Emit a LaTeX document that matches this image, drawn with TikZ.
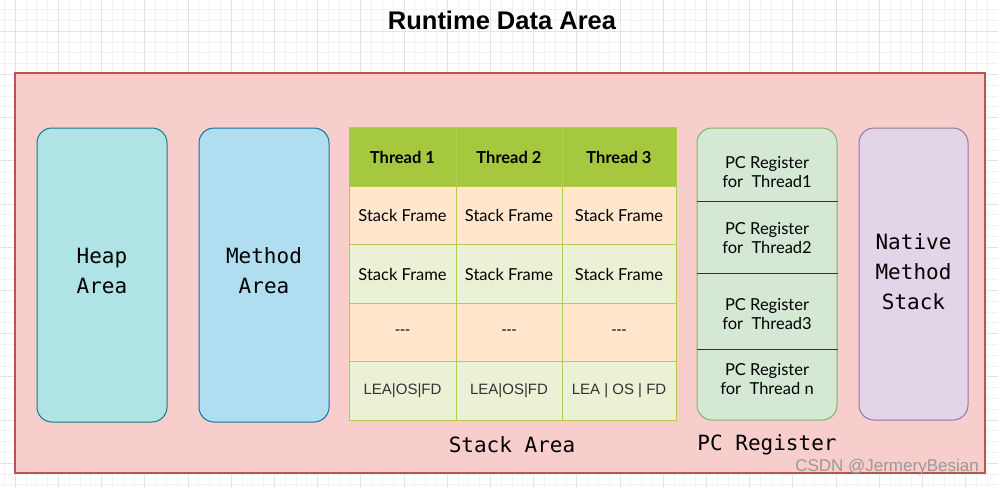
\documentclass[tikz,border=0pt]{standalone}
\usepackage{fontspec}
\setmainfont{Liberation Sans}
\setmonofont{DejaVu Sans Mono}
\newfontfamily\handfont{Lato}
\usepackage{tikz}

\definecolor{outerfill}{RGB}{248,206,204}
\definecolor{outerline}{RGB}{184,84,80}
\definecolor{heapfill}{RGB}{176,227,230}
\definecolor{heapline}{RGB}{14,128,136}
\definecolor{methfill}{RGB}{177,221,240}
\definecolor{methline}{RGB}{16,115,158}
\definecolor{hdrfill}{RGB}{166,200,62}
\definecolor{peach}{RGB}{255,230,204}
\definecolor{lightgreen}{RGB}{234,241,213}
\definecolor{tblline}{RGB}{176,205,80}
\definecolor{pcfill}{RGB}{213,232,212}
\definecolor{pcline}{RGB}{130,179,102}
\definecolor{natfill}{RGB}{225,213,231}
\definecolor{natline}{RGB}{150,115,166}

\tikzset{
  areabox/.style={draw, line width=1pt, rounded corners=15pt, inner sep=0pt,
    minimum width=130pt, minimum height=294pt},
  boxlabel/.style={align=center, font=\fontsize{21}{30}\selectfont\ttfamily},
  cell/.style={draw=tblline, line width=1pt, inner sep=0pt, outer sep=0pt,
    minimum height=58.5pt, align=center},
  divider/.style={draw=black!80, line width=1pt},
  pctext/.style={align=center, font=\fontsize{16.5}{19.5}\selectfont\handfont},
  caption/.style={font=\fontsize{21}{30}\selectfont\ttfamily}
}

\begin{document}
\begin{tikzpicture}[x=1pt,y=1pt,yscale=-1]
\useasboundingbox (0,0) rectangle (998,487);
\fill[white] (0,0) rectangle (998,487);
% grid paper
\foreach \i in {-2,...,92} {
  \draw[black!5, line width=0.5pt] (15+\i*10.8,0) -- (15+\i*10.8,487);
}
\foreach \i in {-3,...,42} {
  \draw[black!5, line width=0.5pt] (0,31+\i*10.8) -- (998,31+\i*10.8);
}
\foreach \i in {0,...,23} {
  \draw[black!11, line width=0.6pt] (15+\i*43.2,0) -- (15+\i*43.2,487);
}
\foreach \i in {-1,...,10} {
  \draw[black!11, line width=0.6pt] (0,31+\i*43.2) -- (998,31+\i*43.2);
}

\node (title) at (502,20) {\fontsize{25.5}{28}\selectfont\bfseries Runtime Data Area};

% runtime data area
\node (rda) [draw=outerline, fill=outerfill, line width=1.3pt, inner sep=0pt,
  minimum width=970pt, minimum height=400pt] at (500,273) {};

\node (heap) [areabox, draw=heapline, fill=heapfill] at (102,275) {};
\node (heaptxt) [boxlabel] at (102,271) {Heap\\Area};
\node (method) [areabox, draw=methline, fill=methfill] at (264,275) {};
\node (methodtxt) [boxlabel] at (264,271) {Method\\Area};

% stack area
\foreach \c/\xl/\w/\tail in {1/349/107/LEA|OS|FD, 2/456/106/LEA|OS|FD, 3/562/114/LEA | OS | FD} {
  \node (t\c-0) [cell, fill=hdrfill, minimum width=\w pt,
    font=\fontsize{16.5}{18}\selectfont\handfont\bfseries] at (\xl+\w/2,157) {Thread \c};
  \node (t\c-1) [cell, fill=peach, minimum width=\w pt,
    font=\fontsize{16.5}{18}\selectfont\handfont] at (\xl+\w/2,215.5) {Stack Frame};
  \node (t\c-2) [cell, fill=lightgreen, minimum width=\w pt,
    font=\fontsize{16.5}{18}\selectfont\handfont] at (\xl+\w/2,274) {Stack Frame};
  \node (t\c-3) [cell, fill=peach, minimum width=\w pt,
    font=\fontsize{15}{18}\selectfont] at (\xl+\w/2,332.5) {-{}-{}-};
  \node (t\c-4) [cell, fill=lightgreen, minimum width=\w pt,
    font=\fontsize{15}{18}\selectfont, text=black!80] at (\xl+\w/2,391) {\tail};
}
\node (stackcap) [caption] at (512,445) {Stack Area};

% pc register
\node (pcreg) [areabox, draw=pcline, fill=pcfill, minimum width=140pt,
  minimum height=292pt] at (767,274) {};
\foreach \y in {201,273,349} {
  \draw[divider] (pcreg.west |- 0,\y) -- (pcreg.east |- 0,\y);
}
\node (pc1) [pctext] at (767,172) {PC Register\\for\ \ Thread1};
\node (pc2) [pctext] at (767,238) {PC Register\\for\ \ Thread2};
\node (pc3) [pctext] at (767,314) {PC Register\\for\ \ Thread3};
\node (pc4) [pctext] at (767,379) {PC Register\\for\ \ Thread n};
\node (pccap) [caption] at (767,445) {PC Register};

% native method stack
\node (native) [areabox, draw=natline, fill=natfill, minimum width=109pt,
  minimum height=292pt] at (913.5,274) {};
\node (nativetxt) [boxlabel] at (913.5,272) {Native\\Method\\Stack};

\node (mark) [text=black!40] at (887,467) {\fontsize{17}{20}\selectfont CSDN @JermeryBesian};
\end{tikzpicture}
\end{document}
